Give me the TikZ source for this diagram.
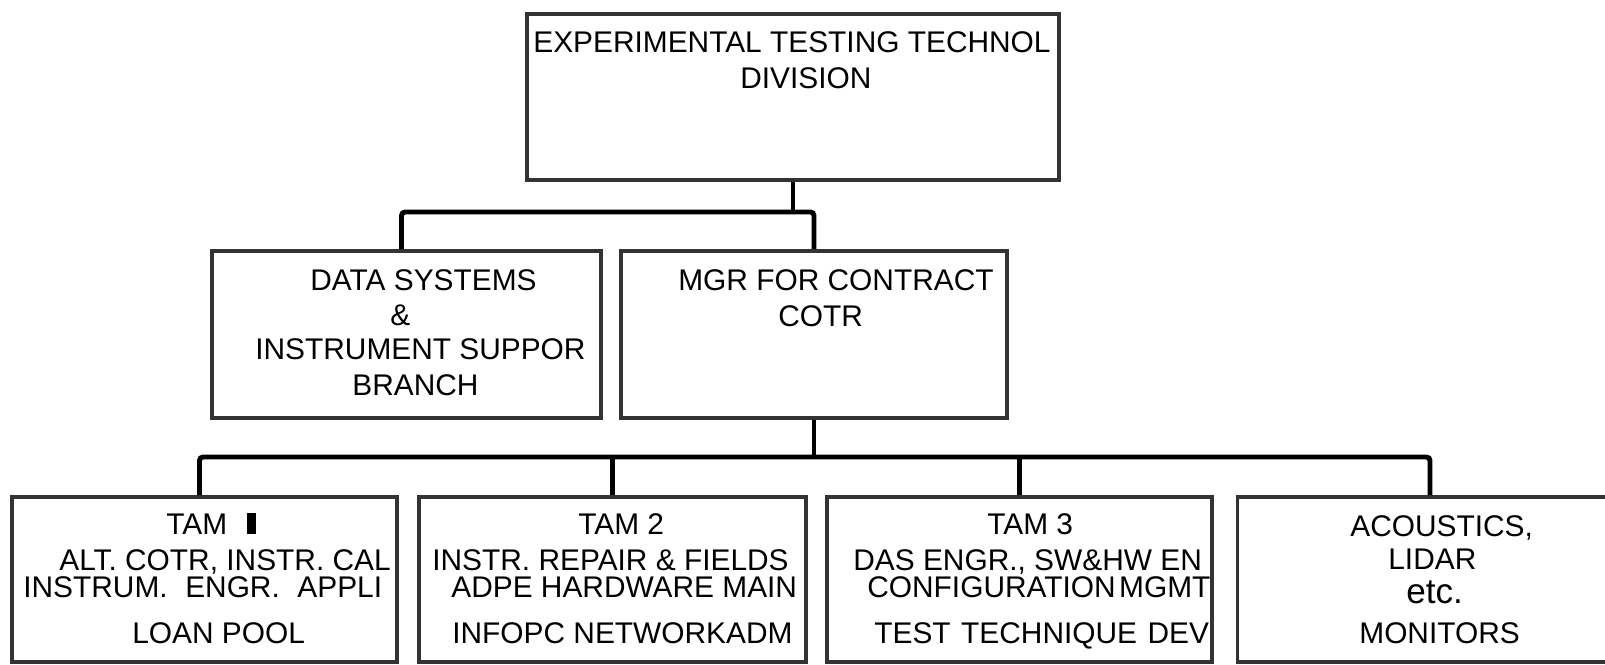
\documentclass[tikz,border=0pt]{standalone}
\usepackage{fontspec}
\setmainfont{Liberation Sans}
\tikzset{
  unitbox/.style={draw=black!80, line width=2.1pt, inner sep=0pt, minimum width=7.7cm, minimum height=3.3cm},
  branch/.style={line width=2.8pt, rounded corners=2pt},
  txt/.style={inner sep=0pt, anchor=base west, font=\fontsize{17}{20}\selectfont},
}
\begin{document}
\begin{tikzpicture}[x=0.02cm, y=-0.02cm]
	\useasboundingbox (0,0) rectangle (1605,664);
	\clip (0,0) rectangle (1605,664);

	% boxes
	\node[unitbox, minimum width=10.64cm, minimum height=3.32cm] (div) at (793,97) {};
	\node[unitbox, minimum width=7.78cm, minimum height=3.34cm] (dsis) at (406.5,334.5) {};
	\node[unitbox, minimum width=7.72cm, minimum height=3.34cm] (mgr) at (814,334.5) {};
	\node[unitbox] (tam1) at (204.5,579.5) {};
	\node[unitbox, minimum width=7.74cm] (tam2) at (612.5,579.5) {};
	\node[unitbox] (tam3) at (1019.5,579.5) {};
	\node[unitbox] (acou) at (1430,579.5) {};

	% lines
	\coordinate (bus1) at (0,212);
	\coordinate (bus2) at (0,457);
	\draw[branch] (div.south) -- (div.south |- bus1);
	\draw[branch] ([xshift=-0.1cm]dsis.north) |- (bus1 -| mgr.north) -- (mgr.north);
	\draw[branch] (mgr.south) -- (mgr.south |- bus2);
	\draw[branch] ([xshift=-0.1cm]tam1.north) |- (bus2 -| acou.north) -- (acou.north);
	\draw[branch] (tam2.north) -- (tam2.north |- bus2);
	\draw[branch] (tam3.north) -- (tam3.north |- bus2);

	% texts
	\begin{scope}
		\clip (div.north west) rectangle (div.south east);
		\node[txt] (div1) at (533,52) {EXPERIMENTAL TESTING TECHNOL};
		\node[txt] (div2) at (740,88) {DIVISION};
	\end{scope}
	\begin{scope}
		\clip (dsis.north west) rectangle (dsis.south east);
		\node[txt] (ds1) at (310,290) {DATA SYSTEMS};
		\node[txt] (ds2) at (390,325) {\&};
		\node[txt] (ds3) at (255,359) {INSTRUMENT SUPPOR};
		\node[txt] (ds4) at (352,395) {BRANCH};
	\end{scope}
	\begin{scope}
		\clip (mgr.north west) rectangle (mgr.south east);
		\node[txt] (mg1) at (678,290) {MGR FOR CONTRACT};
		\node[txt] (mg2) at (778,326) {COTR};
	\end{scope}
	\begin{scope}
		\clip (tam1.north west) rectangle (tam1.south east);
		\node[txt] (ta1) at (166,534) {TAM\hspace{11pt}\rule{5.5pt}{12pt}};
		\node[txt] (ta2) at (59,570) {ALT. COTR, INSTR. CAL};
		\node[txt] (ta3) at (23,597) {INSTRUM.\hspace{10pt}ENGR.\hspace{10pt}APPLI};
		\node[txt] (ta4) at (132,643) {LOAN POOL};
	\end{scope}
	\begin{scope}
		\clip (tam2.north west) rectangle (tam2.south east);
		\node[txt] (tb1) at (578,534) {TAM 2};
		\node[txt] (tb2) at (432,570) {INSTR. REPAIR \& FIELDS};
		\node[txt] (tb3) at (451,597) {ADPE HARDWARE MAIN};
		\node[txt] (tb4) at (452,643) {INFOPC NETWORKADM};
	\end{scope}
	\begin{scope}
		\clip (tam3.north west) rectangle (tam3.south east);
		\node[txt] (tc1) at (987,534) {TAM 3};
		\node[txt] (tc2) at (853,570) {DAS ENGR., SW\&HW EN};
		\node[txt] (tc3) at (867,597) {CONFIGURATION\hspace{2pt}MGMT};
		\node[txt] (tc4) at (874,643) {TEST\hspace{6pt}TECHNIQUE\hspace{6pt}DEV};
	\end{scope}
	\begin{scope}
		\clip (acou.north west) rectangle (acou.south east);
		\node[txt] (ac1) at (1350,536) {ACOUSTICS,};
		\node[txt] (ac2) at (1388,569) {LIDAR};
		\node[txt, font=\fontsize{20}{24}\selectfont] (ac3) at (1406,603) {etc.};
		\node[txt] (ac4) at (1359,643) {MONITORS};
	\end{scope}
\end{tikzpicture}
\end{document}
